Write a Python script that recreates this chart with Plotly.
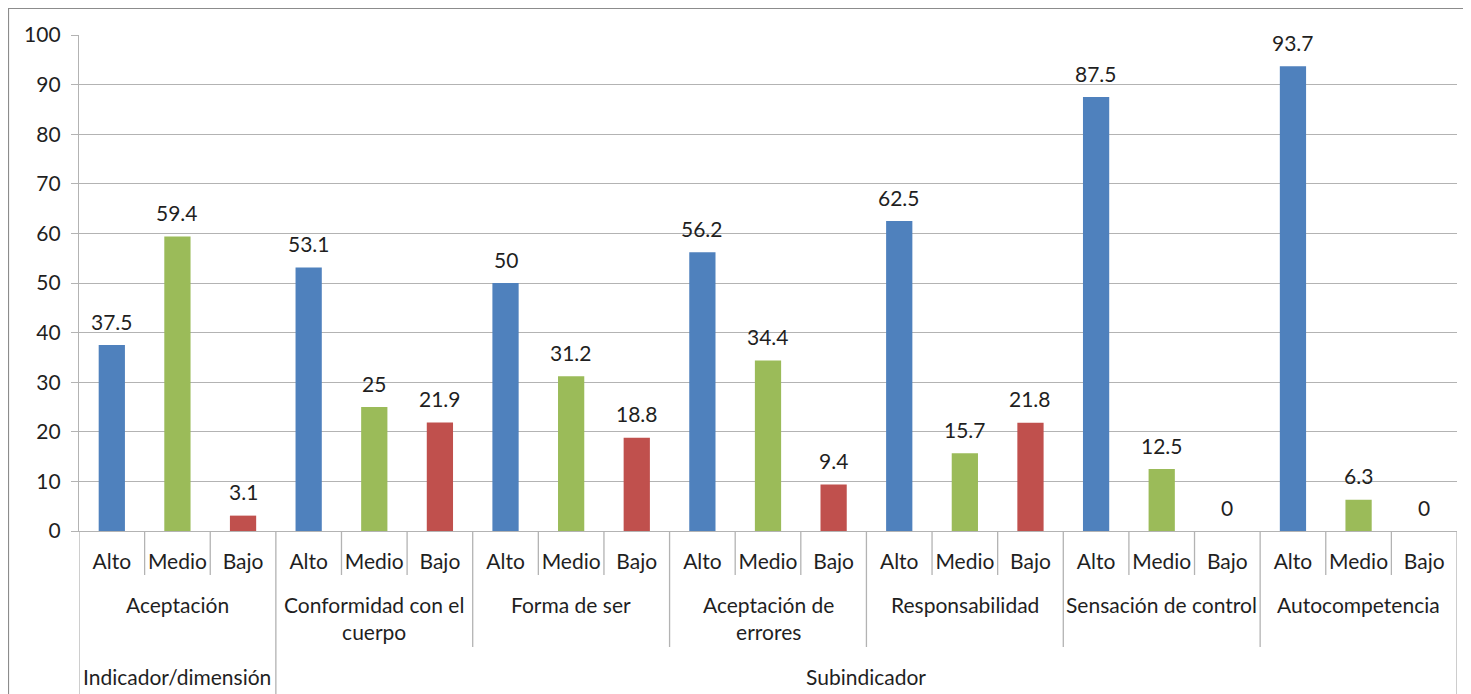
import plotly.graph_objects as go

groups = ["Aceptación", "Conformidad con el<br>cuerpo", "Forma de ser", "Aceptación de<br>errores",
          "Responsabilidad", "Sensación de control", "Autocompetencia"]
levels = ["Alto", "Medio", "Bajo"]
alto = [37.5, 53.1, 50, 56.2, 62.5, 87.5, 93.7]
medio = [59.4, 25, 31.2, 34.4, 15.7, 12.5, 6.3]
bajo = [3.1, 21.9, 18.8, 9.4, 21.8, 0, 0]
top_labels = ["Indicador/dimensión", "Subindicador"]
level_colors = ["#4F81BD", "#9BBB59", "#C0504D"]

FONT = "Lato"
FS = 21
TXT = "#1f1f1f"
GRID = "#B3B3B3"

xs, ys, cols, ticktext = [], [], [], []
for g in range(len(groups)):
    for j, series in enumerate([alto, medio, bajo]):
        xs.append(3 * g + j)
        ys.append(series[g])
        cols.append(level_colors[j])
        ticktext.append(levels[j])

fig = go.Figure()
fig.add_trace(go.Bar(x=xs, y=ys, width=0.4, marker=dict(color=cols, line=dict(width=0)),
                     hoverinfo="x+y"))

# page body has an 8px margin, so figure is offset by 8px on screen
OFF = 8
W, H = 1471 - OFF, 694 - OFF
PL, PR, PT, PB = 79, 1457, 35, 531   # plot area in screen pixels
L, R, T, B = PL - OFF, (W + OFF) - PR, PT - OFF, (H + OFF) - PB
ph = PB - PT
pw = PR - PL

def py(pix):
    return (PB - pix) / ph

def px(pix):
    return (pix - PL) / pw

annotations = []
for x, y in zip(xs, ys):
    annotations.append(dict(x=x, y=y, xref="x", yref="y", text=f"{y:g}", showarrow=False,
                            yanchor="middle", yshift=24, font=dict(family=FONT, size=FS, color=TXT)))
for g, name in enumerate(groups):
    two = "<br>" in name
    annotations.append(dict(x=3 * g + 1, y=py(604), xref="x", yref="paper", text=name,
                            showarrow=False, yanchor="top" if two else "middle",
                            yshift=14 if two else 0,
                            font=dict(family=FONT, size=FS, color=TXT)))
annotations.append(dict(x=1, y=py(676), xref="x", yref="paper", text=top_labels[0], showarrow=False,
                        yanchor="middle", font=dict(family=FONT, size=FS, color=TXT)))
annotations.append(dict(x=11.5, y=py(676), xref="x", yref="paper", text=top_labels[1], showarrow=False,
                        yanchor="middle", font=dict(family=FONT, size=FS, color=TXT)))

shapes = []
n = len(xs)
for k in range(n + 1):
    xb = k - 0.5
    if k == 0 or k == 3 or k == n:
        y1 = py(700)
    elif k % 3 == 0:
        y1 = py(647)
    else:
        y1 = py(575)
    shapes.append(dict(type="line", xref="x", yref="paper", x0=xb, x1=xb, y0=0, y1=y1,
                       line=dict(color=GRID, width=1.3)))
shapes.append(dict(type="rect", xref="paper", yref="paper", x0=px(8), x1=px(1475), y0=py(8), y1=py(740),
                   line=dict(color="#8C8C8C", width=2.2), fillcolor="rgba(0,0,0,0)", layer="below"))

fig.update_layout(
    width=W, height=H,
    margin=dict(l=L, r=R, t=T, b=B, pad=0),
    paper_bgcolor="white", plot_bgcolor="white",
    showlegend=False,
    font=dict(family=FONT, size=FS, color=TXT),
    annotations=annotations,
    shapes=shapes,
    xaxis=dict(range=[-0.5, n - 0.5], tickmode="array", tickvals=xs, ticktext=ticktext,
               showgrid=False, zeroline=False, showline=True, linecolor=GRID, linewidth=1.3,
               ticks="", ticklabelstandoff=12, tickfont=dict(family=FONT, size=FS, color=TXT),
               fixedrange=True),
    yaxis=dict(range=[0, 100], dtick=10, tick0=0, showgrid=True, gridcolor=GRID, gridwidth=1.3,
               zeroline=False, showline=True, linecolor=GRID, linewidth=1.3,
               ticks="outside", ticklen=7, tickcolor=GRID, tickwidth=1.3,
               ticklabelstandoff=6, tickfont=dict(family=FONT, size=FS, color=TXT),
               fixedrange=True),
)

fig.write_html("out.html")
